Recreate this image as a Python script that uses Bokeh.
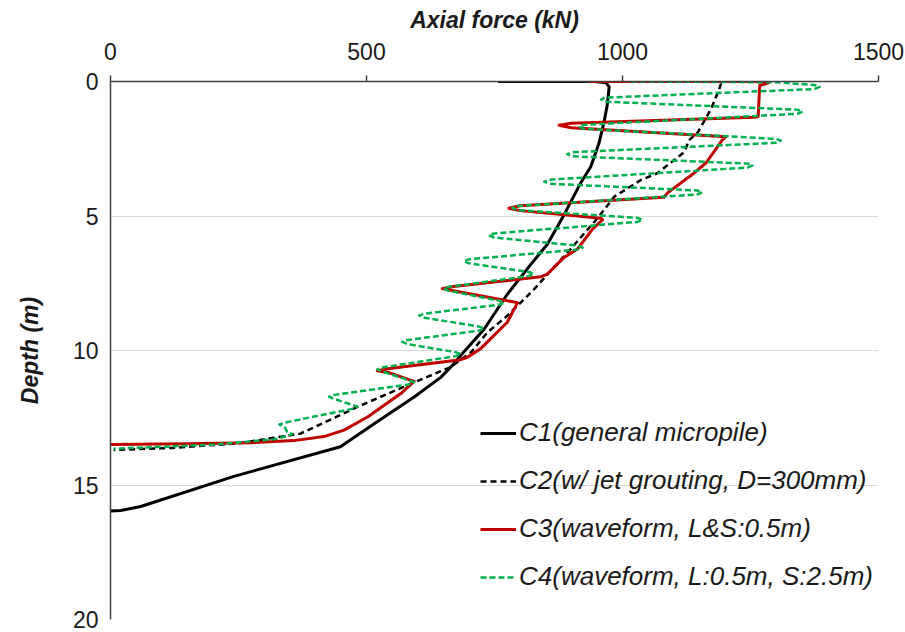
from bokeh.plotting import figure
from bokeh.models import Range1d, Legend, LegendItem, FixedTicker
from bokeh.embed import file_html
from bokeh.resources import INLINE

# ---- data (axial force in kN, depth in m) ----
x_ticks = [0, 500, 1000, 1500]
y_ticks = [0, 5, 10, 15, 20]

series_names = [
    "C1(general micropile)",
    "C2(w/ jet grouting, D=300mm)",
    "C3(waveform, L&S:0.5m)",
    "C4(waveform, L:0.5m, S:2.5m)",
]

c1_force = [757, 945, 968, 974, 970, 964, 954, 938, 918, 886, 853, 821, 775, 730, 684, 668,
            645, 593, 515, 449, 241, 59, 20, 0]
c1_depth = [0, 0, 0.05, 0.2, 0.9, 1.5, 2.3, 3.17, 3.78, 4.95, 6.06, 6.8, 7.91, 9.2, 10.19, 10.55,
            11.0, 11.73, 12.72, 13.58, 14.68, 15.8, 15.95, 15.97]

c2_force = [1114, 1185, 1192, 1189, 1173, 1147, 1130, 1121, 1068, 1036, 984, 954, 900, 846, 827,
            775, 736, 704, 664, 586, 482, 371, 250, 120, 6]
c2_depth = [0, 0, 0.1, 0.28, 1.02, 1.89, 2.18, 2.62, 3.41, 3.66, 4.28, 5.02, 6.2, 7.33, 7.73,
            8.71, 9.33, 10.07, 10.62, 11.24, 12.1, 13.09, 13.45, 13.62, 13.7]

c3_force = [932, 1260, 1285, 1268, 1265, 1257, 900, 876, 900, 1202, 1195, 1163, 1140, 1088, 1081,
            800, 778, 800, 958, 961, 941, 912, 886, 853, 840, 670, 648, 670, 795, 775, 723, 697,
            684, 545, 521, 545, 593, 567, 502, 456, 417, 358, 274, 150, 0]
c3_depth = [0, 0, 0.05, 0.15, 1.3, 1.33, 1.55, 1.63, 1.72, 2.05, 2.17, 3.03, 3.4, 4.14, 4.3,
            4.62, 4.71, 4.8, 5.08, 5.14, 5.5, 6.23, 6.54, 7.16, 7.26, 7.62, 7.7, 7.78, 8.22, 8.95,
            9.93, 10.25, 10.34, 10.67, 10.75, 10.83, 11.15, 11.6, 12.47, 12.96, 13.2, 13.35,
            13.43, 13.47, 13.49]

c4_force = [1016, 1300, 1375, 1385, 1375, 965, 958, 965, 1342, 1352, 1342, 925, 915, 925, 1299,
            1309, 1299, 902, 892, 902, 1244, 1254, 1244, 857, 847, 857, 1146, 1156, 1146, 795,
            785, 795, 1029, 1039, 1029, 749, 739, 749, 912, 922, 912, 700, 690, 700, 817, 827,
            817, 661, 651, 661, 759, 769, 759, 613, 603, 613, 720, 730, 720, 580, 570, 580, 674,
            684, 674, 531, 521, 531, 583, 593, 583, 437, 427, 437, 472, 482, 472, 340, 330, 340,
            345, 355, 345, 320, 200, 6]
c4_depth = [0, 0.03, 0.13, 0.2, 0.28, 0.6, 0.67, 0.75, 1.05, 1.12, 1.2, 1.61, 1.68, 1.76, 2.13,
            2.2, 2.28, 2.63, 2.7, 2.78, 3.05, 3.12, 3.2, 3.65, 3.72, 3.8, 4.05, 4.12, 4.2, 4.63,
            4.7, 4.78, 5.07, 5.14, 5.22, 5.65, 5.72, 5.8, 6.1, 6.17, 6.25, 6.61, 6.68, 6.76, 7.08,
            7.15, 7.23, 7.63, 7.7, 7.78, 8.15, 8.22, 8.3, 8.63, 8.7, 8.78, 9.11, 9.18, 9.26, 9.61,
            9.68, 9.76, 10.06, 10.13, 10.21, 10.63, 10.7, 10.78, 11.11, 11.18, 11.26, 11.65,
            11.72, 11.8, 12.02, 12.09, 12.17, 12.68, 12.75, 12.83, 13.03, 13.1, 13.18, 13.3, 13.5,
            13.65]

FONT = "Liberation Sans"

p = figure(width=905, height=632, output_backend="svg", toolbar_location=None,
           x_range=Range1d(0, 1500), y_range=Range1d(20, 0),
           x_axis_location="above",
           min_border_left=110, min_border_right=27, min_border_top=81, min_border_bottom=13)
p.outline_line_color = None
p.background_fill_color = "white"
p.border_fill_color = "white"

p.xgrid.visible = False
p.ygrid.grid_line_color = "#d9d9d9"
p.ygrid.grid_line_width = 1.2

for ax, ticks in ((p.xaxis, x_ticks), (p.yaxis, y_ticks)):
    ax.ticker = FixedTicker(ticks=ticks)
    ax.axis_line_color = "#404040"
    ax.axis_line_width = 1.5
    ax.major_tick_line_color = "#404040"
    ax.major_tick_line_width = 1.5
    ax.minor_tick_line_color = None
    ax.major_tick_in = 0
    ax.major_label_text_font = FONT
    ax.major_label_text_font_size = "23px"
    ax.major_label_text_color = "#1a1a1a"
    ax.axis_label_text_font = FONT
    ax.axis_label_text_font_size = "23px"
    ax.axis_label_text_font_style = "bold italic"
    ax.axis_label_text_color = "#1a1a1a"

p.xaxis.axis_label = "Axial force (kN)"
p.xaxis.major_tick_out = 6
p.xaxis.major_label_standoff = 16
p.xaxis.axis_label_standoff = 7
p.yaxis.axis_label = "Depth (m)"
p.yaxis.major_tick_out = 0
p.yaxis.major_label_standoff = 12
p.yaxis.axis_label_standoff = 27

r1 = p.line(c1_force, c1_depth, line_color="black", line_width=3, line_join="round")
r2 = p.line(c2_force, c2_depth, line_color="black", line_width=2.5, line_dash="6 4",
            line_join="round")
r3 = p.line(c3_force, c3_depth, line_color="#c00000", line_width=3, line_join="round")
r4 = p.line(c4_force, c4_depth, line_color="#00b050", line_width=2.5, line_dash="6 3",
            line_join="round")

legend = Legend(items=[LegendItem(label=n, renderers=[r]) for n, r in
                       zip(series_names, [r1, r2, r3, r4])],
                location=(370, 27))
legend.background_fill_alpha = 0
legend.border_line_color = None
legend.padding = 0
legend.margin = 0
legend.spacing = 17
legend.glyph_width = 36
legend.glyph_height = 30
legend.label_height = 30
legend.label_standoff = 3
legend.label_text_font = FONT
legend.label_text_font_size = "26px"
legend.label_text_font_style = "italic"
legend.label_text_color = "#1a1a1a"
p.add_layout(legend)

open("out.html", "w").write(file_html(p, INLINE))
